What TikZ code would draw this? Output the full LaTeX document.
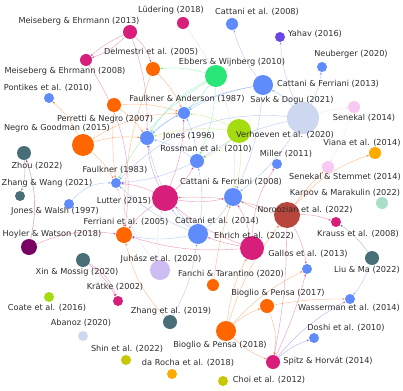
\documentclass[tikz,border=0pt]{standalone}
\usepackage{fontspec}
\setmainfont{DejaVu Sans}
\usetikzlibrary{arrows.meta}
\definecolor{cBlue}{RGB}{95,140,250}
\definecolor{cOr}{RGB}{255,102,0}
\definecolor{cMag}{RGB}{214,30,122}
\definecolor{cTeal}{RGB}{72,110,120}
\definecolor{cGreen}{RGB}{40,230,120}
\definecolor{cLime}{RGB}{165,220,15}
\definecolor{cPale}{RGB}{205,216,240}
\definecolor{cPink}{RGB}{250,200,245}
\definecolor{cPurp}{RGB}{105,70,230}
\definecolor{cBrown}{RGB}{185,70,60}
\definecolor{cLav}{RGB}{205,188,242}
\definecolor{cDPurp}{RGB}{120,0,100}
\definecolor{cAmber}{RGB}{255,170,0}
\definecolor{cMint}{RGB}{170,222,200}
\definecolor{cOlive}{RGB}{200,200,0}
\definecolor{cText}{RGB}{45,45,45}
\pgfdeclarelayer{bg}
\pgfsetlayers{bg,main}
\tikzset{
  nd/.style={circle,inner sep=0pt,minimum size=#1},
  lb/.style={font=\fontsize{8.2}{9}\selectfont,text=cText,inner sep=0pt},
  ed/.style={-{Stealth[length=2.6pt,width=2.2pt]},line width=0.4pt,draw=#1,draw opacity=0.45},
}
\begin{document}
\begin{tikzpicture}[x=1pt,y=-1pt]
\useasboundingbox (0,0) rectangle (403,390);
% nodes
\node[nd=14pt,fill=cMag] (me13) at (130,32) {};
\node[nd=12pt,fill=cMag] (lud) at (183,23) {};
\node[nd=12pt,fill=cBlue] (cat08) at (232,24) {};
\node[nd=10pt,fill=cPurp] (yah) at (280,37) {};
\node[nd=10pt,fill=cBlue] (neu) at (322,67) {};
\node[nd=12pt,fill=cMag] (me08) at (86,60) {};
\node[nd=14pt,fill=cOr] (del) at (153,69) {};
\node[nd=22pt,fill=cGreen] (ebb) at (216,76) {};
\node[nd=20pt,fill=cBlue] (cf13) at (263,85) {};
\node[nd=10pt,fill=cBlue] (pon) at (49,98) {};
\node[nd=14pt,fill=cOr] (per) at (114,105) {};
\node[nd=12pt,fill=cBlue] (fa87) at (184,113) {};
\node[nd=32pt,fill=cPale] (savk) at (303,118) {};
\node[nd=12pt,fill=cPink] (sen) at (354,107) {};
\node[nd=24pt,fill=cLime] (ver) at (239,131) {};
\node[nd=22pt,fill=cOr] (neg) at (83,145) {};
\node[nd=14pt,fill=cBlue] (jon) at (147,138) {};
\node[nd=14pt,fill=cTeal] (zhou) at (24,153) {};
\node[nd=14pt,fill=cBlue] (ros) at (197,161) {};
\node[nd=10pt,fill=cBlue] (mil) at (277,164) {};
\node[nd=12pt,fill=cAmber] (vian) at (375,153) {};
\node[nd=12pt,fill=cPink] (sest) at (328,167) {};
\node[nd=10pt,fill=cBlue] (fa83) at (116,183) {};
\node[nd=10pt,fill=cTeal] (zw) at (20,196) {};
\node[nd=18pt,fill=cBlue] (cf08) at (233,197) {};
\node[nd=26pt,fill=cMag] (lut) at (165,198) {};
\node[nd=12pt,fill=cMint] (karp) at (382,203) {};
\node[nd=10pt,fill=cBlue] (jw) at (69,204) {};
\node[nd=26pt,fill=cBrown] (nor) at (287,215) {};
\node[nd=10pt,fill=cMag] (kra) at (336,222) {};
\node[nd=20pt,fill=cBlue] (c14) at (198,234) {};
\node[nd=16pt,fill=cOr] (fer05) at (124,235) {};
\node[nd=16pt,fill=cDPurp] (hoy) at (29,247) {};
\node[nd=24pt,fill=cMag] (ehr) at (252,248) {};
\node[nd=10pt,fill=cBlue] (gal) at (307,269) {};
\node[nd=14pt,fill=cTeal] (liu) at (372,258) {};
\node[nd=14pt,fill=cTeal] (xin) at (83,260) {};
\node[nd=20pt,fill=cLav] (juh) at (160,270) {};
\node[nd=12pt,fill=cOr] (fan) at (213,285) {};
\node[nd=10pt,fill=cMag] (krt) at (118,301) {};
\node[nd=10pt,fill=cLime] (coa) at (49,297) {};
\node[nd=14pt,fill=cOr] (bio17) at (267,306) {};
\node[nd=10pt,fill=cBlue] (was) at (350,299) {};
\node[nd=14pt,fill=cTeal] (zh19) at (170,322) {};
\node[nd=10pt,fill=cPale] (abn) at (83,336) {};
\node[nd=20pt,fill=cOr] (bio18) at (226,331) {};
\node[nd=10pt,fill=cBlue] (dosh) at (314,338) {};
\node[nd=10pt,fill=cOlive] (shin) at (126,360) {};
\node[nd=14pt,fill=cMag] (spz) at (273,362) {};
\node[nd=10pt,fill=cAmber] (dar) at (172,374) {};
\node[nd=10pt,fill=cOlive] (choi) at (223,381) {};
% labels
\node[lb] (me13l) at (79,21) {Meiseberg \& Ehrmann (2013)};
\node[lb] (ludl) at (171,10) {Lüdering (2018)};
\node[lb] (cat08l) at (257,12) {Cattani et al. (2008)};
\node[lb] (yahl) at (315,34) {Yahav (2016)};
\node[lb] (neul) at (351,54) {Neuberger (2020)};
\node[lb] (me08l) at (65,71) {Meiseberg \& Ehrmann (2008)};
\node[lb] (dell) at (151,52) {Delmestri et al. (2005)};
\node[lb] (ebbl) at (232,62) {Ebbers \& Wijnberg (2010)};
\node[lb] (cf13l) at (328,84) {Cattani \& Ferriani (2013)};
\node[lb] (ponl) at (48,88) {Pontikes et al. (2010)};
\node[lb] (perl) at (105,119) {Perretti \& Negro (2007)};
\node[lb] (fa87l) at (187,99) {Faulkner \& Anderson (1987)};
\node[lb] (savkl) at (292,100) {Savk \& Dogu (2021)};
\node[lb] (senl) at (364,118) {Senekal (2014)};
\node[lb] (verl) at (285,135) {Verhoeven et al. (2020)};
\node[lb] (negl) at (57,128) {Negro \& Goodman (2015)};
\node[lb] (jonl) at (189,136) {Jones (1996)};
\node[lb] (zhoul) at (37,166) {Zhou (2022)};
\node[lb] (rosl) at (206,149) {Rossman et al. (2010)};
\node[lb] (mill) at (286,154) {Miller (2011)};
\node[lb] (vianl) at (362,143) {Viana et al. (2014)};
\node[lb] (sestl) at (345,177) {Senekal \& Stemmet (2014)};
\node[lb] (fa83l) at (115,170) {Faulkner (1983)};
\node[lb] (zwl) at (47,183) {Zhang \& Wang (2021)};
\node[lb] (cf08l) at (231,182) {Cattani \& Ferriani (2008)};
\node[lb] (lutl) at (124,201) {Lutter (2015)};
\node[lb] (karpl) at (345,193) {Karpov \& Marakulin (2022)};
\node[lb] (jwl) at (55,211) {Jones \& Walsh (1997)};
\node[lb] (norl) at (305,210) {Noroozian et al. (2022)};
\node[lb] (kral) at (358,234) {Krauss et al. (2008)};
\node[lb] (c14l) at (217,221) {Cattani et al. (2014)};
\node[lb] (fer05l) at (126,222) {Ferriani et al. (2005)};
\node[lb] (hoyl) at (52,234) {Hoyler \& Watson (2018)};
\node[lb] (ehrl) at (254,236) {Ehrich et al. (2022)};
\node[lb] (gall) at (308,254) {Gallos et al. (2013)};
\node[lb] (liul) at (367,270) {Liu \& Ma (2022)};
\node[lb] (xinl) at (77,272) {Xin \& Mossig (2020)};
\node[lb] (juhl) at (161,259) {Juhász et al. (2020)};
\node[lb] (fanl) at (231,274) {Fanchi \& Tarantino (2020)};
\node[lb] (krtl) at (115,287) {Krätke (2002)};
\node[lb] (coal) at (47,308) {Coate et al. (2016)};
\node[lb] (bio17l) at (278,293) {Bioglio \& Pensa (2017)};
\node[lb] (wasl) at (349,308) {Wasserman et al. (2014)};
\node[lb] (zh19l) at (171,311) {Zhang et al. (2019)};
\node[lb] (abnl) at (81,323) {Abanoz (2020)};
\node[lb] (bio18l) at (220,345) {Bioglio \& Pensa (2018)};
\node[lb] (doshl) at (346,328) {Doshi et al. (2010)};
\node[lb] (shinl) at (127,349) {Shin et al. (2022)};
\node[lb] (spzl) at (328,361) {Spitz \& Horvát (2014)};
\node[lb] (darl) at (188,363) {da Rocha et al. (2018)};
\node[lb] (choil) at (269,380) {Choi et al. (2012)};
% edges
\begin{pgfonlayer}{bg}
\fill[white] (0,0) rectangle (403,390);
\draw[ed=cMag] (me13) to[bend left=12] (me08);
\draw[ed=cMag] (me13) to[bend right=8] (me08);
\draw[ed=cMag] (me13) to[bend left=15] (del);
\draw[ed=cMag] (me13) to[bend left=10] (jon);
\draw[ed=cMag] (me08) to[bend left=20] (fer05);
\draw[ed=cLav] (lud) to[bend left=20] (cf08);
\draw[ed=cOr] (del) to[bend left=10] (fa87);
\draw[ed=cOr] (del) to[bend right=10] (fer05);
\draw[ed=cGreen] (ebb) to[bend right=10] (del);
\draw[ed=cGreen] (ebb) to[bend left=5] (fa87);
\draw[ed=cGreen] (ebb) to[bend right=15] (jon);
\draw[ed=cGreen] (ebb) to[bend right=15] (fa83);
\draw[ed=cGreen] (ebb) to[bend left=10] (ros);
\draw[ed=cBlue] (cf13) to[bend left=10] (cat08);
\draw[ed=cBlue] (cf13) to[bend right=10] (fa87);
\draw[ed=cBlue] (cf13) to[bend right=15] (jon);
\draw[ed=cBlue] (cf13) to[bend left=10] (cf08);
\draw[ed=cBlue] (savk) to[bend left=10] (yah);
\draw[ed=cBlue] (savk) to[bend right=10] (neu);
\draw[ed=cPink] (savk) to[bend left=5] (sen);
\draw[ed=cBlue] (savk) to[bend right=10] (cf13);
\draw[ed=cBlue] (savk) to[bend left=10] (cf08);
\draw[ed=cBlue] (savk) to[bend right=10] (ros);
\draw[ed=cBlue] (savk) to[bend right=25] (fa83);
\draw[ed=cPink] (sen) to[bend left=5] (sest);
\draw[ed=cLime] (ver) to[bend right=10] (fa87);
\draw[ed=cLime] (ver) to[bend right=10] (jon);
\draw[ed=cLime] (ver) to[bend left=10] (ros);
\draw[ed=cLime] (ver) to[bend left=10] (cf08);
\draw[ed=cOr] (neg) to[bend left=10] (jon);
\draw[ed=cOr] (neg) to[bend left=15] (fa87);
\draw[ed=cOr] (neg) to[bend left=10] (fa83);
\draw[ed=cOr] (neg) to[bend right=10] (pon);
\draw[ed=cOr] (per) to[bend left=10] (fa87);
\draw[ed=cOr] (per) to[bend left=10] (jon);
\draw[ed=cOr] (per) to[bend right=5] (fa83);
\draw[ed=cBlue] (jon) to[bend left=10] (fa87);
\draw[ed=cBlue] (ros) to[bend right=10] (fa87);
\draw[ed=cBlue] (ros) to[bend right=10] (jon);
\draw[ed=cBlue] (ros) to[bend left=10] (fa83);
\draw[ed=cMag] (lut) to[bend right=10] (fa83);
\draw[ed=cMag] (lut) to[bend left=10] (jon);
\draw[ed=cMag] (lut) to[bend right=10] (fa87);
\draw[ed=cMag] (lut) to[bend right=10] (cf08);
\draw[ed=cMag] (lut) to[bend right=10] (fer05);
\draw[ed=cMag] (lut) to[bend right=10] (ros);
\draw[ed=cBlue] (c14) to[bend right=10] (cf08);
\draw[ed=cBlue] (c14) to[bend left=10] (fa83);
\draw[ed=cBlue] (c14) to[bend left=10] (fer05);
\draw[ed=cBlue] (c14) to[bend left=15] (jon);
\draw[ed=cBlue] (c14) to[bend right=10] (ros);
\draw[ed=cBlue] (c14) to[bend left=10] (lut);
\draw[ed=cMag] (ehr) to[bend left=10] (lut);
\draw[ed=cMag] (ehr) to[bend left=5] (c14);
\draw[ed=cMag] (ehr) to[bend left=10] (fer05);
\draw[ed=cMag] (ehr) to[bend right=10] (cf08);
\draw[ed=cMag] (ehr) to[bend left=15] (mil);
\draw[ed=cLav] (juh) to[bend left=10] (lut);
\draw[ed=cLav] (juh) to[bend left=10] (fa83);
\draw[ed=cBlue] (jw) to[bend left=25] (fa83);
\draw[ed=cTeal] (zhou) to[bend left=10] (zw);
\draw[ed=cDPurp] (hoy) to[bend right=15] (zhou);
\draw[ed=cMag] (hoy) to[bend left=15] (fer05);
\draw[ed=cMag] (xin) to[bend left=12] (krt);
\draw[ed=cMag] (xin) to[bend left=20] (krt);
\draw[ed=cOr] (zh19) to[bend left=15] (fer05);
\draw[ed=cBlue] (zh19) to[bend right=10] (c14);
\draw[ed=cOr] (fan) to[bend left=5] (cf08);
\draw[ed=cOr] (nor) to[bend left=15] (vian);
\draw[ed=cOr] (nor) to[bend left=5] (sest);
\draw[ed=cMag] (nor) to[bend left=10] (kra);
\draw[ed=cMag] (nor) to[bend left=10] (gal);
\draw[ed=cBrown] (nor) to[bend left=10] (cf08);
\draw[ed=cBrown] (nor) to[bend right=10] (lut);
\draw[ed=cMag] (nor) to[bend left=5] (spz);
\draw[ed=cTeal] (liu) to[bend right=10] (kra);
\draw[ed=cBlue] (liu) to[bend left=10] (was);
\draw[ed=cOr] (bio18) to[bend left=10] (bio17);
\draw[ed=cOr] (bio18) to[bend right=10] (spz);
\draw[ed=cOr] (bio17) to[bend left=15] (spz);
\draw[ed=cOr] (bio18) to[bend left=10] (gal);
\draw[ed=cOr] (bio18) to[bend left=10] (nor);
\draw[ed=cOr] (bio18) to[bend left=10] (ehr);
\draw[ed=cOr] (bio17) to[bend left=5] (was);
\draw[ed=cPurp] (spz) to[bend left=10] (dosh);
\draw[ed=cPurp] (spz) to[bend left=10] (was);
\draw[ed=cMag] (spz) to[bend right=5] (gal);
\end{pgfonlayer}
\end{tikzpicture}
\end{document}
